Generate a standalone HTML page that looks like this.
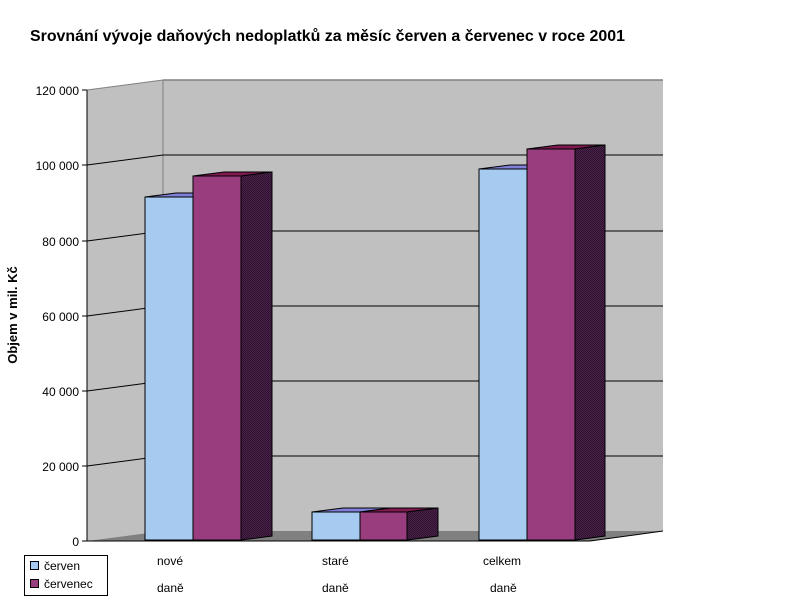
<!DOCTYPE html>
<html><head><meta charset="utf-8"><style>
body{margin:0;background:#fff;width:808px;height:601px;overflow:hidden}
svg{display:block}
text{font-family:"Liberation Sans",Arial,sans-serif}
</style></head><body>
<svg width="808" height="601" viewBox="0 0 808 601" xmlns="http://www.w3.org/2000/svg">
<defs>
<pattern id="dot" width="2" height="2" patternUnits="userSpaceOnUse">
<rect width="2" height="2" fill="#4a2448"/><rect width="1" height="1" fill="#2e1030"/><rect x="1" y="1" width="1" height="1" fill="#2e1030"/>
</pattern>
</defs>
<text x="30" y="41" font-size="16" font-weight="bold" textLength="595" lengthAdjust="spacingAndGlyphs">Srovnání vývoje daňových nedoplatků za měsíc červen a červenec v roce 2001</text>
<polygon points="87,90 163,80 163,531 87,541" fill="#c0c0c0"/>
<rect x="163" y="80" width="500" height="451" fill="#c0c0c0"/>
<polygon points="87,541 163,531 663,531 590,541" fill="#808080"/>
<line x1="87" y1="90" x2="163" y2="80" stroke="#808080"/>
<line x1="163" y1="80" x2="663" y2="80" stroke="#808080" stroke-width="1.5"/>
<line x1="163" y1="80" x2="163" y2="531" stroke="#808080"/>
<g stroke="#000" stroke-width="1">
<line x1="87" y1="165" x2="163" y2="155"/><line x1="163" y1="155" x2="663" y2="155"/>
<line x1="87" y1="241" x2="163" y2="231"/><line x1="163" y1="231" x2="663" y2="231"/>
<line x1="87" y1="316" x2="163" y2="306"/><line x1="163" y1="306" x2="663" y2="306"/>
<line x1="87" y1="391" x2="163" y2="381"/><line x1="163" y1="381" x2="663" y2="381"/>
<line x1="87" y1="466" x2="163" y2="456"/><line x1="163" y1="456" x2="663" y2="456"/>
<line x1="87" y1="541" x2="590" y2="541"/><line x1="590" y1="541" x2="663" y2="531"/>
<line x1="87" y1="90" x2="87" y2="541"/>
<line x1="82" y1="90" x2="87" y2="90"/><line x1="82" y1="165" x2="87" y2="165"/><line x1="82" y1="241" x2="87" y2="241"/><line x1="82" y1="316" x2="87" y2="316"/><line x1="82" y1="391" x2="87" y2="391"/><line x1="82" y1="466" x2="87" y2="466"/><line x1="82" y1="541" x2="87" y2="541"/>
</g>
<g font-size="12" text-anchor="end">
<text x="79" y="95">120 000</text><text x="79" y="170">100 000</text><text x="79" y="246">80 000</text><text x="79" y="321">60 000</text><text x="79" y="396">40 000</text><text x="79" y="471">20 000</text><text x="79" y="546">0</text>
</g>
<text transform="translate(17,315) rotate(-90)" font-size="13" font-weight="bold" text-anchor="middle">Objem v mil. Kč</text>
<g stroke="#000" stroke-width="1">
<polygon points="145,197 176,193 224,193 193,197" fill="#8080d8"/>
<rect x="145" y="197" width="48" height="343" fill="#a6caf0"/>
<polygon points="193,176 224,172 272,172 241,176" fill="#801a50"/>
<polygon points="241,176 272,172 272,536 241,540" fill="url(#dot)"/>
<rect x="193" y="176" width="48" height="364" fill="#993d7f"/>
<polygon points="312,512 343,508 391,508 360,512" fill="#8080d8"/>
<rect x="312" y="512" width="48" height="28" fill="#a6caf0"/>
<polygon points="360,512 391,508 438,508 407,512" fill="#801a50"/>
<polygon points="407,512 438,508 438,536 407,540" fill="url(#dot)"/>
<rect x="360" y="512" width="47" height="28" fill="#993d7f"/>
<polygon points="479,169 510,165 558,165 527,169" fill="#8080d8"/>
<rect x="479" y="169" width="48" height="371" fill="#a6caf0"/>
<polygon points="527,149 558,145 605,145 575,149" fill="#801a50"/>
<polygon points="575,149 605,145 605,536 575,540" fill="url(#dot)"/>
<rect x="527" y="149" width="48" height="391" fill="#993d7f"/>
</g>
<g font-size="12">
<text x="157" y="565">nové</text><text x="157" y="592">daně</text>
<text x="322" y="565">staré</text><text x="322" y="592">daně</text>
<text x="483" y="565">celkem</text><text x="490" y="592">daně</text>
</g>
<rect x="24.5" y="555.5" width="83" height="40" fill="#fff" stroke="#000"/>
<rect x="30.5" y="561.5" width="8" height="8" fill="#a6caf0" stroke="#000"/>
<rect x="30.5" y="579.5" width="8" height="8" fill="#993d7f" stroke="#000"/>
<g font-size="12"><text x="44" y="570">červen</text><text x="44" y="588">červenec</text></g>
</svg>
</body></html>
